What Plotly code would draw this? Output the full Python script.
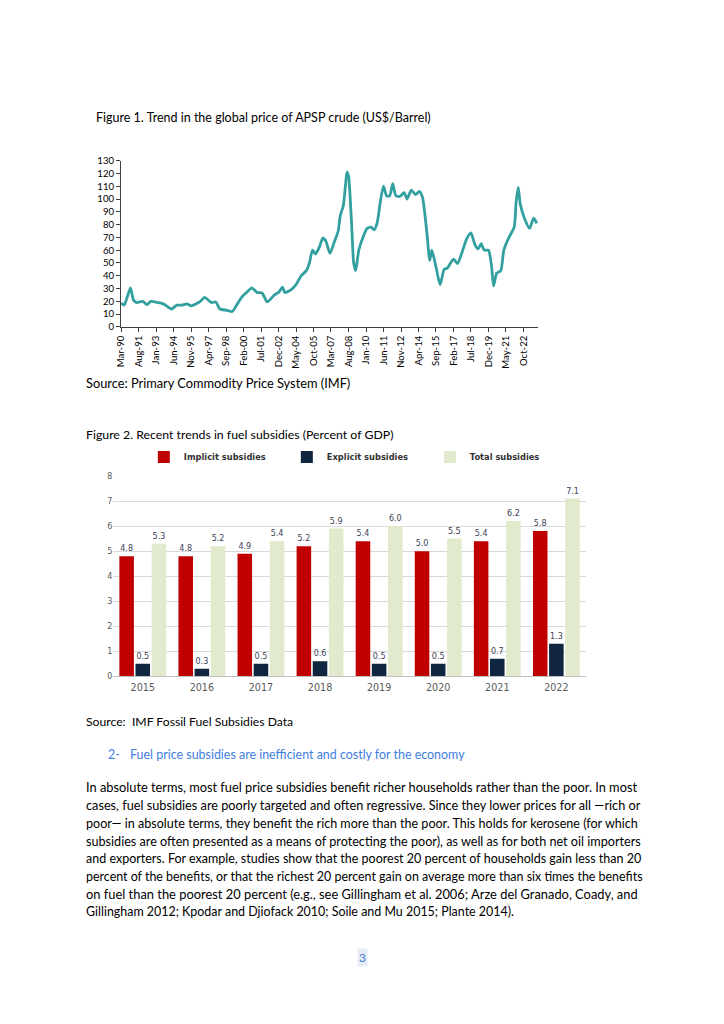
import pandas as pd
import plotly.graph_objects as go

# ---------------- Figure 1 data: APSP crude price (US$/barrel) ----------------
price_dates = [
    "1990-03", "1990-06", "1990-12", "1991-03", "1991-06", "1991-12", "1992-04", "1992-08",
    "1993-03", "1993-08", "1994-04", "1994-09", "1995-02", "1995-07", "1995-11", "1996-08",
    "1996-12", "1997-07", "1997-11", "1998-03", "1998-10", "1999-03", "1999-08", "2000-01",
    "2000-05", "2000-10", "2001-03", "2001-08", "2002-01", "2002-08", "2002-12", "2003-04",
    "2003-06", "2003-12", "2004-05", "2004-10", "2005-03", "2005-06", "2005-09", "2005-12",
    "2006-04", "2006-07", "2006-10", "2007-02", "2007-06", "2007-10", "2007-12", "2008-03",
    "2008-05", "2008-06-15", "2008-08", "2008-11", "2009-01", "2009-03", "2009-06", "2009-11",
    "2010-02", "2010-06", "2010-09", "2010-12", "2011-03", "2011-06", "2011-09", "2011-12",
    "2012-03", "2012-06", "2012-10", "2013-02", "2013-05", "2013-09", "2014-01", "2014-05",
    "2014-08", "2014-12", "2015-03", "2015-05", "2015-09", "2016-01", "2016-05", "2016-08",
    "2017-02", "2017-06", "2017-11", "2018-03", "2018-07", "2018-11", "2019-02", "2019-05",
    "2019-08", "2019-12", "2020-03", "2020-05", "2020-08", "2020-12", "2021-03", "2021-08",
    "2022-01", "2022-03", "2022-05", "2022-07", "2022-11", "2023-04", "2023-08", "2023-11",
]
price_values = [
    18.7, 17, 30.5, 21, 19, 20, 17.5, 20,
    19, 18, 14, 17, 17, 18, 16.5, 20,
    23, 19, 19.5, 14, 13, 12, 18, 24,
    27, 30.5, 27, 26.5, 19.5, 25, 27, 31,
    27, 29, 33, 40, 44, 50, 60, 57,
    63, 69.5, 67, 57.5, 66, 75, 87, 95,
    110, 121, 118, 80, 50, 44, 60, 72,
    77, 78, 76, 82, 98, 110, 102.5, 102.5,
    112, 102.5, 102, 105, 100, 107, 103.5, 106,
    101, 75, 52, 60, 47, 33, 45, 46,
    53, 49.5, 60, 69, 73.5, 64, 61, 65,
    60, 60, 48, 32, 42, 44, 60, 70,
    78, 98, 109, 96, 85, 77, 85, 81,
]
price_tick_labels = [
    "Mar-90", "Aug-91", "Jan-93", "Jun-94", "Nov-95", "Apr-97", "Sep-98", "Feb-00",
    "Jul-01", "Dec-02", "May-04", "Oct-05", "Mar-07", "Aug-08", "Jan-10", "Jun-11",
    "Nov-12", "Apr-14", "Sep-15", "Feb-17", "Jul-18", "Dec-19", "May-21", "Oct-22",
]
price_y_ticks = list(range(0, 131, 10))

# ---------------- Figure 2 data: fuel subsidies (% of GDP) ----------------
years = ["2015", "2016", "2017", "2018", "2019", "2020", "2021", "2022"]
implicit = [4.8, 4.8, 4.9, 5.2, 5.4, 5.0, 5.4, 5.8]
explicit = [0.5, 0.3, 0.5, 0.6, 0.5, 0.5, 0.7, 1.3]
total = [5.3, 5.2, 5.4, 5.9, 6.0, 5.5, 6.2, 7.1]

W, H = 700, 1000
TXT = "Lato"
# observed placement of the figure in the captured page
OX, OY, SX, SY = 16.0, 12.5, 0.985, 0.99


def px_x(x):
    return ((x - OX) / SX) / W


def px_y(y):
    return 1 - ((y - OY) / SY) / H


fig = go.Figure()

# Figure 1 line
fig.add_trace(go.Scatter(
    x=pd.to_datetime(price_dates, format="ISO8601"), y=price_values, mode="lines",
    line=dict(color="#31A09F", width=2.8, shape="spline", smoothing=0.6),
    showlegend=False, xaxis="x", yaxis="y", hoverinfo="skip",
))

# Figure 2 bars
series = [
    ("Implicit subsidies", implicit, "#C00000"),
    ("Explicit subsidies", explicit, "#10253F"),
    ("Total subsidies", total, "#E1EACD"),
]
for name, vals, col in series:
    fig.add_trace(go.Bar(
        x=years, y=vals, name=name, marker=dict(color=col, line=dict(width=0)),
        text=[f"{v:.1f}" for v in vals], textposition="outside",
        textfont=dict(family="DejaVu Sans", size=8, color="#3B3F58"),
        cliponaxis=False, xaxis="x2", yaxis="y2", hoverinfo="skip",
    ))

tick_dates = pd.to_datetime(price_tick_labels, format="%b-%y")

fig.update_layout(
    width=W, height=H, autosize=False,
    margin=dict(l=0, r=0, t=0, b=0),
    paper_bgcolor="white", plot_bgcolor="white",
    font=dict(family=TXT, color="#000000"),
    barmode="group", bargap=0.18, bargroupgap=0.1,
    xaxis=dict(
        domain=[px_x(122.3), px_x(536.7)], anchor="y", type="date",
        range=["1990-02-25", "2023-12-10"],
        tickvals=tick_dates, ticktext=price_tick_labels, tickangle=-90,
        tickfont=dict(family=TXT, size=9.6, color="#000000"),
        showgrid=False, zeroline=False,
        showline=True, linecolor="#404040", linewidth=1,
        ticks="outside", ticklen=4, tickcolor="#404040",
    ),
    yaxis=dict(
        domain=[px_y(325.7), px_y(159.3)], anchor="x",
        range=[0, 130], tickvals=price_y_ticks,
        tickfont=dict(family=TXT, size=9.6, color="#000000"),
        showgrid=False, zeroline=False,
        showline=True, linecolor="#404040", linewidth=1,
        ticks="outside", ticklen=4, tickcolor="#404040",
    ),
    xaxis2=dict(
        domain=[px_x(114.6), px_x(584.2)], anchor="y2", type="category",
        tickfont=dict(family="DejaVu Sans", size=9.6, color="#595959"),
        showgrid=False, showline=True, linecolor="#BFBFBF", linewidth=1,
        ticks="", ticklabelstandoff=2,
    ),
    yaxis2=dict(
        domain=[px_y(675.5), px_y(475)], anchor="x2",
        range=[0, 8], dtick=1,
        tickfont=dict(family="DejaVu Sans", size=8, color="#595959"),
        showgrid=True, gridcolor="#D9D9D9", gridwidth=1,
        zeroline=False, showline=False, ticks="",
    ),
    legend=dict(
        orientation="h", x=px_x(145), xanchor="left", y=px_y(456), yanchor="middle",
        font=dict(family="DejaVu Sans", size=8.3, color="#333333", weight="bold"),
        entrywidth=98, entrywidthmode="pixels", itemwidth=30,
        bgcolor="rgba(0,0,0,0)", traceorder="normal",
    ),
)

# ---------------- Document text ----------------
def add_text(x, y, text, size=12, color="#000000", **kw):
    fig.add_annotation(
        xref="paper", yref="paper", x=px_x(x), y=px_y(y), text=text,
        showarrow=False, xanchor="left", yanchor="middle",
        font=dict(family=TXT, size=size, color=color), **kw,
    )


add_text(95, 116, "Figure 1. Trend in the global price of APSP crude (US$/Barrel)", size=12.5)
add_text(86, 382, "Source: Primary Commodity Price System (IMF)", size=12.8)
add_text(86, 433, "Figure 2. Recent trends in fuel subsidies (Percent of GDP)", size=12.3)
add_text(86, 721, "Source:&nbsp;&nbsp;IMF Fossil Fuel Subsidies Data", size=12.2)
add_text(107, 754, "2-", size=12.4, color="#3F7DE0")
add_text(129, 754, "Fuel price subsidies are inefficient and costly for the economy", size=12.45, color="#3F7DE0")

paragraph = [
    "In absolute terms, most fuel price subsidies benefit richer households rather than the poor. In most",
    "cases, fuel subsidies are poorly targeted and often regressive. Since they lower prices for all \u2014rich or",
    "poor\u2014 in absolute terms, they benefit the rich more than the poor. This holds for kerosene (for which",
    "subsidies are often presented as a means of protecting the poor), as well as for both net oil importers",
    "and exporters. For example, studies show that the poorest 20 percent of households gain less than 20",
    "percent of the benefits, or that the richest 20 percent gain on average more than six times the benefits",
    "on fuel than the poorest 20 percent (e.g., see Gillingham et al. 2006; Arze del Granado, Coady, and",
    "Gillingham 2012; Kpodar and Djiofack 2010; Soile and Mu 2015; Plante 2014).",
]
line_y = [786.5, 804.5, 822.5, 840.5, 858, 876, 893.5, 911]
# per-line sizes so the justified lines reach the right margin
line_size = [12.81, 12.71, 12.57, 12.64, 12.5, 12.45, 12.88, 12.45]
for ly, line, sz in zip(line_y, paragraph, line_size):
    add_text(86, ly, line, size=sz)

fig.add_annotation(
    xref="paper", yref="paper", x=px_x(362), y=px_y(957), text="3",
    showarrow=False, xanchor="center", yanchor="middle",
    font=dict(family=TXT, size=12, color="#3F7DE0"), bgcolor="#E6ECF3", borderpad=1,
)

fig.write_html("out.html", config={"displayModeBar": False})
